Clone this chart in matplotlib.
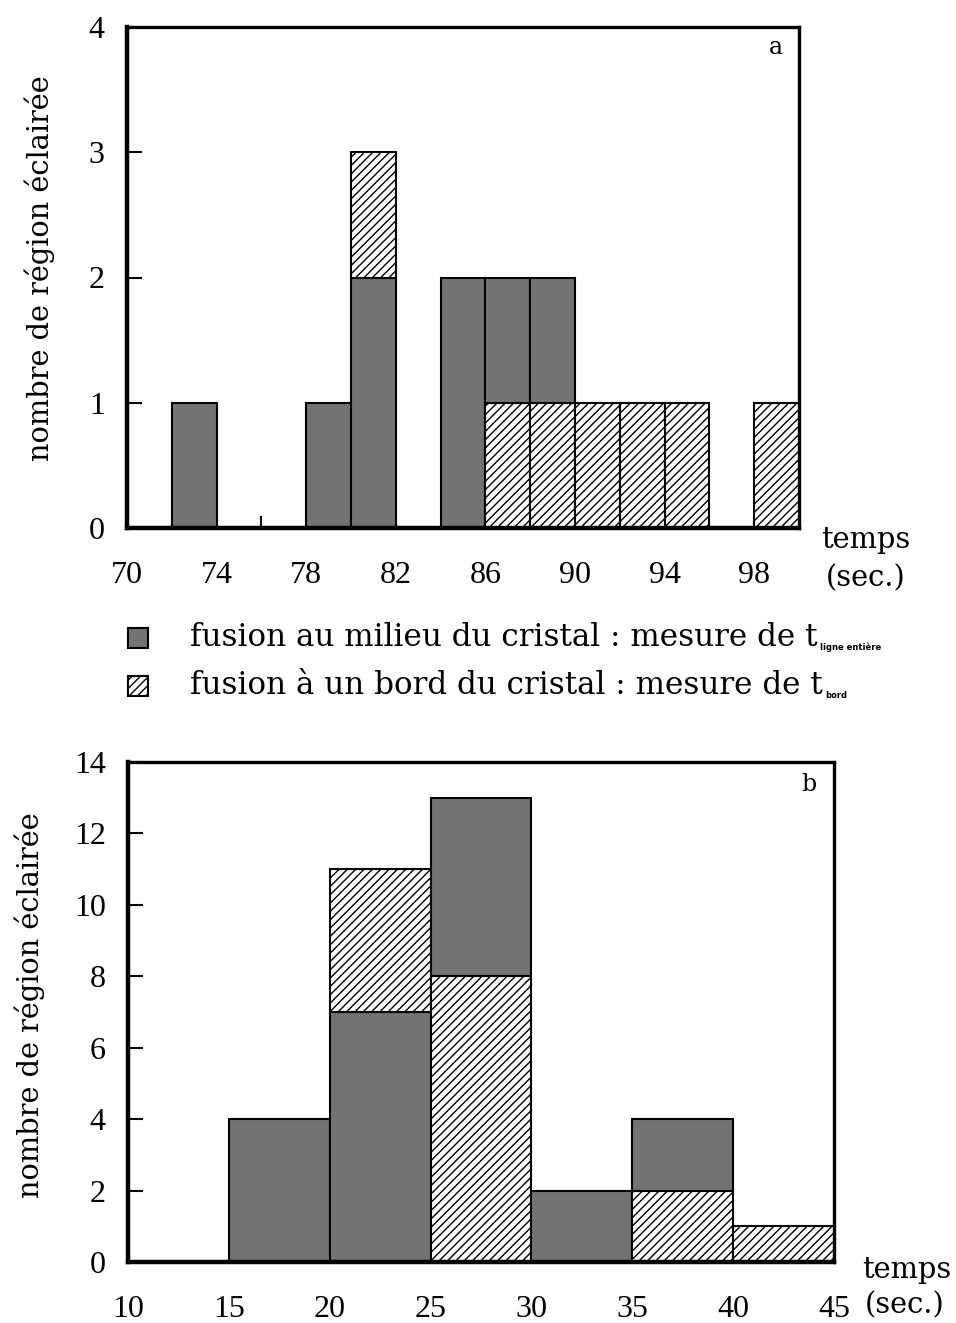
import matplotlib
matplotlib.use('Agg')
import matplotlib.pyplot as plt
from matplotlib.patches import Rectangle

plt.rcParams['font.family'] = ['Liberation Serif', 'DejaVu Serif']
plt.rcParams['hatch.linewidth'] = 1.0

# panel a : bins of 2 s (left edges)
bins_a = [72, 78, 80, 84, 86, 88, 90, 92, 94, 98]
milieu_a = [1, 1, 2, 2, 1, 1, 0, 0, 0, 0]
bord_a = [0, 0, 1, 0, 1, 1, 1, 1, 1, 1]
bord_below_a = [False, False, False, False, True, True, True, True, True, True]
xticks_a = [70, 74, 78, 82, 86, 90, 94, 98]
yticks_a = [0, 1, 2, 3, 4]

# panel b : bins of 5 s
bins_b = [15, 20, 25, 30, 35, 40]
milieu_b = [4, 7, 5, 2, 2, 0]
bord_b = [0, 4, 8, 0, 2, 1]
bord_below_b = [False, False, True, False, True, True]
xticks_b = [10, 15, 20, 25, 30, 35, 40, 45]
yticks_b = [0, 2, 4, 6, 8, 10, 12, 14]

ylabel = 'nombre de région éclairée'
leg_labels = ['fusion au milieu du cristal : mesure de t',
              'fusion à un bord du cristal : mesure de t']
leg_subs = ['ligne entière', 'bord']

GRAY = '#737373'
FS = 23          # tick labels
LAB = dict(family=['DejaVu Serif'], fontsize=20.8)
LEG = dict(family=['DejaVu Serif'], fontsize=22.3)


def stacked(ax, edges, width, milieu, bord, bord_below):
    for x, m, b, below in zip(edges, milieu, bord, bord_below):
        if below:
            parts = [('b', b), ('m', m)]
        else:
            parts = [('m', m), ('b', b)]
        base = 0
        for kind, h in parts:
            if h == 0:
                continue
            if kind == 'm':
                ax.bar(x, h, width, bottom=base, align='edge', color=GRAY,
                       edgecolor='black', linewidth=1.5, zorder=2)
            else:
                ax.bar(x, h, width, bottom=base, align='edge', color='white',
                       edgecolor='black', hatch='////', linewidth=1.5, zorder=2)
            base += h


def style(ax, xlim, ylim, xticks, yticks):
    ax.set_xlim(*xlim)
    ax.set_ylim(*ylim)
    ax.set_xticks(xticks)
    ax.set_yticks(yticks)
    ax.tick_params(axis='x', length=0, pad=24, labelsize=FS)
    ax.tick_params(axis='y', direction='in', length=11, width=1.5, pad=16,
                   labelsize=FS)
    for s in ['left', 'bottom']:
        ax.spines[s].set_linewidth(3.2)
    for s in ['top', 'right']:
        ax.spines[s].set_linewidth(2.4)
    for s in ax.spines.values():
        s.set_zorder(5)


fig = plt.figure(figsize=(9.56, 13.23), dpi=100)

ax1 = fig.add_axes([127 / 956, 1 - 528 / 1323, 672 / 956, 501 / 1323])
stacked(ax1, bins_a, 2, milieu_a, bord_a, bord_below_a)
style(ax1, (70, 100), (0, 4), xticks_a, yticks_a)
ax1.set_xticks([76], minor=True)
ax1.tick_params(axis='x', which='minor', direction='in', length=9, width=1.5)
ax1.text(0.965, 0.96, 'a', transform=ax1.transAxes, fontsize=17,
         family=['DejaVu Serif'], ha='center', va='center')
fig.text(40 / 956, 1 - 268 / 1323, ylabel, rotation=90, ha='center',
         va='center', **LAB)
fig.text(866 / 956, 1 - 540 / 1323, 'temps', ha='center', va='center', **LAB)
fig.text(866 / 956, 1 - 578 / 1323, '(sec.)', ha='center', va='center', **LAB)

# legend
fig.patches.append(Rectangle((128 / 956, 1 - 648 / 1323), 20 / 956, 20 / 1323,
                             transform=fig.transFigure, facecolor=GRAY,
                             edgecolor='black', linewidth=1.5))
fig.patches.append(Rectangle((128 / 956, 1 - 696 / 1323), 20 / 956, 20 / 1323,
                             transform=fig.transFigure, facecolor='white',
                             edgecolor='black', hatch='////', linewidth=1.5))
renderer = fig.canvas.get_renderer()
for i, (lab, sub) in enumerate(zip(leg_labels, leg_subs)):
    yc = 1 - (638 + 48 * i) / 1323
    t = fig.text(190 / 956, yc, lab, ha='left', va='center', **LEG)
    bb = t.get_window_extent(renderer)
    fig.text((bb.x1 + 3) / 956, (bb.y0 + 2) / 1323, sub, ha='left',
             va='bottom', family=['DejaVu Sans'], fontsize=6, weight='bold')

ax2 = fig.add_axes([128 / 956, 1 - 1262 / 1323, 706 / 956, 500 / 1323])
stacked(ax2, bins_b, 5, milieu_b, bord_b, bord_below_b)
style(ax2, (10, 45), (0, 14), xticks_b, yticks_b)
ax2.text(0.965, 0.955, 'b', transform=ax2.transAxes, fontsize=17,
         family=['DejaVu Serif'], ha='center', va='center')
fig.text(30 / 956, 1 - 1005 / 1323, ylabel, rotation=90, ha='center',
         va='center', **LAB)
fig.text(907 / 956, 1 - 1270 / 1323, 'temps', ha='center', va='center', **LAB)
fig.text(905 / 956, 1 - 1305 / 1323, '(sec.)', ha='center', va='center', **LAB)

fig.savefig('out.png', dpi=100)
